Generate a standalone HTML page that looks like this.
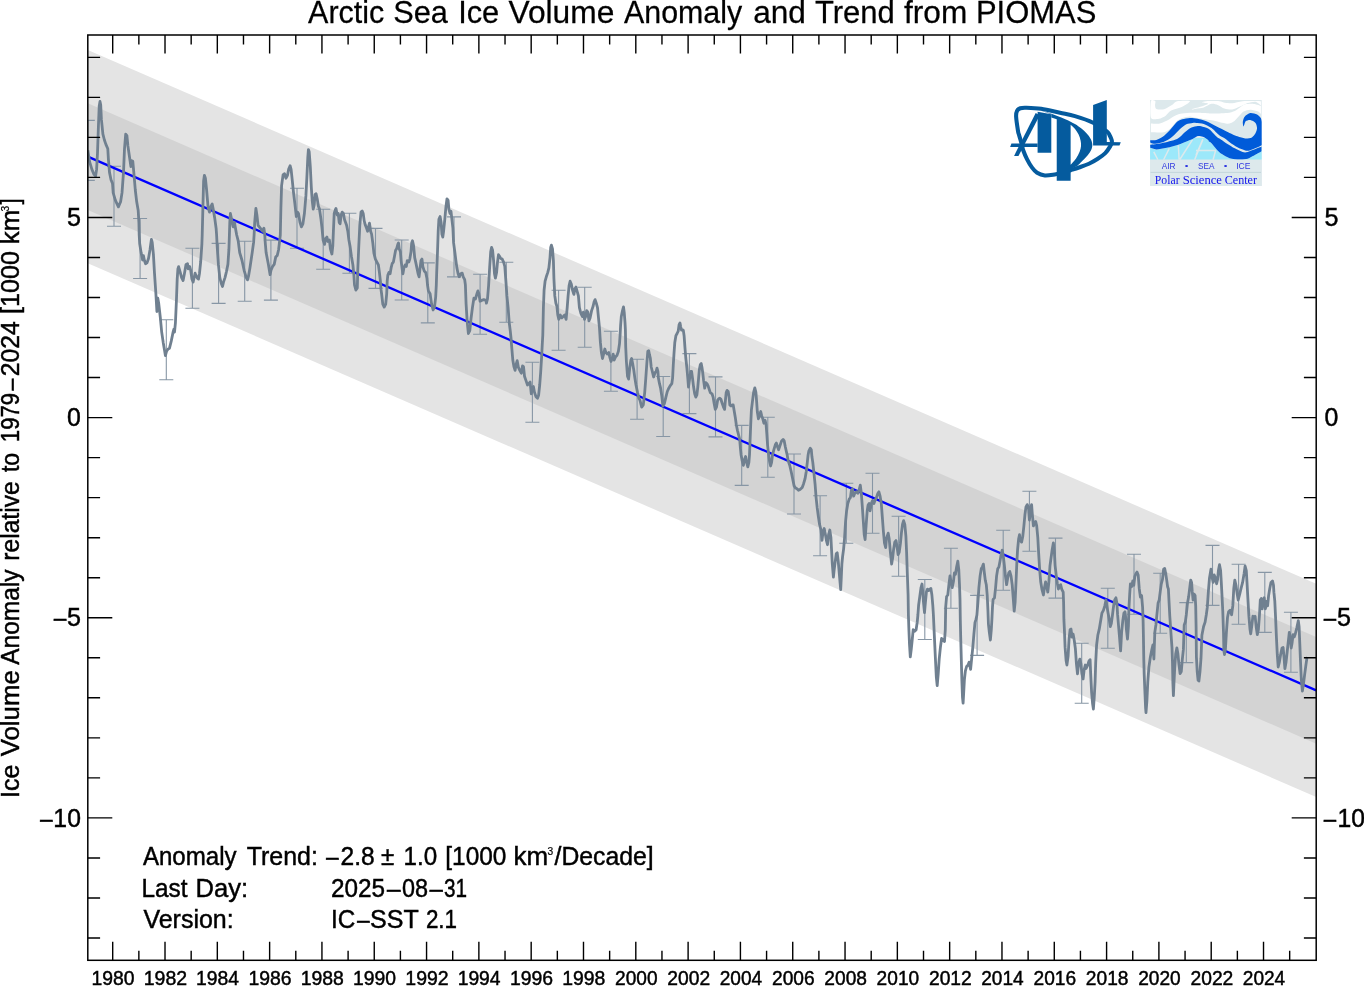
<!DOCTYPE html>
<html lang="en"><head><meta charset="utf-8"><title>Arctic Sea Ice Volume Anomaly and Trend from PIOMAS</title>
<style>html,body{margin:0;padding:0;background:#fff}body{width:1364px;height:986px;overflow:hidden}svg{display:block}text{font-family:"Liberation Sans",sans-serif;fill:#000;stroke:#000;stroke-width:0.45}</style></head><body>
<svg width="1364" height="986" viewBox="0 0 1364 986">
<rect width="1364" height="986" fill="#fff"/>
<defs><clipPath id="pc"><rect x="87.8" y="35.0" width="1228.4" height="925.3"/></clipPath></defs>
<g clip-path="url(#pc)">
<polygon fill="#e4e4e4" points="87.8,50 1316.2,583.8 1316.2,797 87.8,263.2"/>
<polygon fill="#d3d3d3" points="87.8,103.3 1316.2,637.1 1316.2,743.7 87.8,209.9"/>
<path d="M87.8 120.4V180.4M80.8 120.4h14M80.8 180.4h14M114 166.3V226.3M107 166.3h14M107 226.3h14M140.1 218.5V278.5M133.1 218.5h14M133.1 278.5h14M166.3 319.7V379.7M159.3 319.7h14M159.3 379.7h14M192.4 248.2V308.2M185.4 248.2h14M185.4 308.2h14M218.6 243.4V303.4M211.6 243.4h14M211.6 303.4h14M244.7 241.3V301.3M237.7 241.3h14M237.7 301.3h14M270.9 240.1V300.1M263.9 240.1h14M263.9 300.1h14M297 188.3V248.3M290 188.3h14M290 248.3h14M323.2 209.3V269.3M316.2 209.3h14M316.2 269.3h14M349.4 213.2V273.2M342.4 213.2h14M342.4 273.2h14M375.5 228.4V288.4M368.5 228.4h14M368.5 288.4h14M401.7 240V300M394.7 240h14M394.7 300h14M427.8 262.9V322.9M420.8 262.9h14M420.8 322.9h14M454 216.9V276.9M447 216.9h14M447 276.9h14M480.1 274.2V334.2M473.1 274.2h14M473.1 334.2h14M506.3 262.2V322.2M499.3 262.2h14M499.3 322.2h14M532.4 362.2V422.2M525.4 362.2h14M525.4 422.2h14M558.6 290.3V350.3M551.6 290.3h14M551.6 350.3h14M584.7 287.3V347.3M577.7 287.3h14M577.7 347.3h14M610.9 331.2V391.2M603.9 331.2h14M603.9 391.2h14M637.1 359.3V419.3M630.1 359.3h14M630.1 419.3h14M663.2 376.5V436.5M656.2 376.5h14M656.2 436.5h14M689.4 353.6V413.6M682.4 353.6h14M682.4 413.6h14M715.5 376.9V436.9M708.5 376.9h14M708.5 436.9h14M741.7 425.4V485.4M734.7 425.4h14M734.7 485.4h14M767.8 417.2V477.2M760.8 417.2h14M760.8 477.2h14M794 454V514M787 454h14M787 514h14M820.1 495.7V555.7M813.1 495.7h14M813.1 555.7h14M846.3 483.3V543.3M839.3 483.3h14M839.3 543.3h14M872.5 473.2V533.2M865.5 473.2h14M865.5 533.2h14M898.6 516.3V576.3M891.6 516.3h14M891.6 576.3h14M924.8 579.5V639.5M917.8 579.5h14M917.8 639.5h14M950.9 548.3V608.3M943.9 548.3h14M943.9 608.3h14M977.1 595.4V655.4M970.1 595.4h14M970.1 655.4h14M1003.2 530.3V590.3M996.2 530.3h14M996.2 590.3h14M1029.4 491.2V551.2M1022.4 491.2h14M1022.4 551.2h14M1055.5 538.1V598.1M1048.5 538.1h14M1048.5 598.1h14M1081.7 643.3V703.3M1074.7 643.3h14M1074.7 703.3h14M1107.8 588.2V648.2M1100.8 588.2h14M1100.8 648.2h14M1134 554.3V614.3M1127 554.3h14M1127 614.3h14M1160.2 573.2V633.2M1153.2 573.2h14M1153.2 633.2h14M1186.3 602.6V662.6M1179.3 602.6h14M1179.3 662.6h14M1212.5 545.4V605.4M1205.5 545.4h14M1205.5 605.4h14M1238.6 564.3V624.3M1231.6 564.3h14M1231.6 624.3h14M1264.8 572.4V632.4M1257.8 572.4h14M1257.8 632.4h14M1290.9 612.3V672.3M1283.9 612.3h14M1283.9 672.3h14" fill="none" stroke="#8796a5" stroke-width="1.1"/>
<line x1="87.8" y1="156.6" x2="1316.2" y2="690.4" stroke="#0000ff" stroke-width="2.35"/>
<path d="M87.8 150.3 L89.7 162.1 L91.9 169.4 L94.1 174.6 L95.6 176 L96.6 169.4 L97.5 153.2 L98.4 126.8 L99.2 106.2 L100 101.5 L100.7 104.7 L101.4 119.4 L102.9 134.1 L104.4 140 L105.9 144.4 L107.8 148.8 L108.4 159.1 L109.5 172.4 L111 179.7 L112.5 183.4 L113.2 192.9 L115.4 200.3 L118.4 206.9 L120.6 201.8 L122 192.9 L123.5 172.4 L124.5 148.8 L125.7 134.1 L126.9 135.6 L127.9 145.9 L129.4 156.2 L130.9 166.5 L131.6 160.6 L132.8 161.3 L133.8 172.4 L135.3 190 L136.7 201.8 L138.2 210.6 L138.9 222.4 L139.2 235 L139.7 243.8 L141.1 252.6 L142.6 260 L143.4 255.6 L144.5 260.7 L145.6 263.7 L147 262.9 L148.5 258.5 L150 249.7 L151.4 239.4 L152.2 242.4 L153.4 254.1 L154.4 271.8 L155.9 293.8 L156.9 311.5 L157.8 298.2 L158.8 304.1 L160.3 317.4 L161.7 332.1 L163.2 342.4 L164.7 351.2 L165.4 355.6 L166.6 351.2 L168.1 349 L169.5 348.2 L171.3 340.9 L173.1 332.1 L173.9 329.1 L174.5 332.1 L175.4 323.2 L176.4 301.2 L177.2 279.1 L177.9 268.8 L178.6 266.6 L180.1 271.8 L181.6 277.6 L183.1 280.6 L184.5 273.2 L186 264.4 L187.5 263.7 L188.2 268.8 L189.7 266.6 L190.7 270.3 L191.9 279.1 L193.1 282.1 L194.1 277.6 L195.1 273.2 L196.3 276.2 L197.5 278.4 L198.5 279.1 L199.5 273.2 L200.7 261.5 L201.9 243.8 L202.2 235 L202.9 207.6 L203.6 181.2 L204.4 175.3 L205.4 178.2 L206.6 190 L208.1 207.6 L209.5 212.1 L211 206.2 L212.2 204 L213.2 209.1 L214.7 217.9 L216.1 228.2 L216.6 235 L217.2 246.8 L218.4 264.4 L219.8 277.6 L221.3 283.5 L222.5 286.5 L223.5 282.1 L225 277.6 L226.4 271.8 L227.9 264.4 L228.9 249.7 L229.4 235 L229.8 222.4 L230.4 213.5 L231.6 219.4 L233.1 226.8 L234.5 222.4 L236 231.2 L236.7 235 L238.2 240.9 L239.7 252.6 L241.9 260 L244.1 270.3 L246.3 277.6 L247.5 279.9 L248.5 276.2 L250 267.4 L252.2 252.6 L253.6 242.4 L254.1 235 L254.7 222.4 L255.9 208.4 L256.9 215 L258.1 225.3 L260.3 228.2 L262.5 231.2 L263.9 228.2 L264.8 235 L265.1 240.9 L266.1 252.6 L268.4 264.4 L270.1 274.7 L271 270.3 L272.5 266.6 L274.2 264.4 L275.7 257.1 L277.2 255.6 L278.6 249.7 L279.8 239.4 L280.3 235 L280.9 207.6 L281.6 185.6 L283.1 174.6 L284.5 173.8 L286 178.2 L287.5 175.3 L288.6 169.4 L290.1 165.7 L291.1 169.4 L292.2 179.7 L293.4 191.5 L294.8 203.2 L296.3 216.5 L297.5 212.1 L298.5 213.5 L300 222.4 L301.4 226.8 L302.9 223.8 L304.4 213.5 L305.9 195.9 L306.9 176.8 L307.8 157.6 L308.4 149.6 L309.2 151.8 L310.3 166.5 L311.3 187.1 L312.2 200.3 L313.2 209.1 L314.2 204.7 L315.1 194.4 L316.1 193.7 L317.2 198.8 L318.4 206.2 L319.5 209.1 L321 219.4 L322 228.2 L323.1 240 L324.5 244.4 L325.7 238.5 L326.9 237.1 L327.9 241.5 L329.4 240 L330.4 248.8 L331.9 254 L332.8 245.9 L333.4 231.2 L334.2 213.5 L335.3 209.9 L336 208.4 L337.2 215 L338.2 213.5 L339.2 222.4 L340.1 223.8 L341.1 215 L342.2 212.1 L343.4 213.5 L344.5 219.4 L345.6 222.4 L346.6 225.3 L347.8 231.2 L348.9 240 L350 245.9 L351.4 256.2 L352.9 265 L353.9 275.3 L354.5 285 L355.9 290.1 L357.3 287.9 L357.8 269.4 L358.8 245.9 L359.8 225.3 L361 212.1 L362.2 210.9 L363.2 213.5 L364.2 220.9 L365.4 225.3 L366.6 228.2 L367.6 231.2 L368.6 226.8 L369.5 223.1 L370.6 231.2 L371.6 234.1 L372.8 242.9 L373.9 253.2 L375.4 259.1 L376.9 262.1 L378.4 265 L379.4 272.4 L380.4 281.2 L381 289.4 L381.6 293.8 L382.8 304.1 L384.2 307.1 L385.7 304.1 L386.7 293.8 L387.2 281.2 L387.8 275.3 L388.9 272.4 L390.1 273.8 L391.1 267.9 L392.2 263.5 L393.4 262.1 L394.5 256.2 L395.6 250.3 L396.6 248.8 L397.8 244.4 L398.5 242.9 L399.2 248.8 L400.4 251.8 L401.1 260.6 L402.2 269.4 L402.9 273.8 L403.9 267.9 L405.1 265 L406.3 266.5 L407.3 260.6 L408.8 262.1 L409.8 259.1 L411 251.8 L411.7 242.9 L412.5 240.7 L413.6 245.9 L414.7 257.6 L415.7 262.1 L416.9 267.9 L418.1 273.8 L419.1 276.8 L420.1 267.9 L421 260.6 L422 259.1 L422.8 266.5 L424.2 270.9 L425.7 272.4 L426.9 278.2 L427.5 285 L428.4 290.9 L430.1 293.8 L431.6 304.1 L433.1 310 L434.5 307.1 L435.7 296.8 L436.3 285 L436.7 272.4 L437.5 251.8 L438.2 231.2 L438.9 219.4 L440.1 216.5 L441.1 222.4 L441.9 234.1 L442.8 237.1 L443.6 231.2 L444.8 219.4 L446 206.2 L447 198.8 L448.1 200.3 L448.9 209.1 L450 213.5 L451 211.3 L451.9 219.4 L452.9 228.2 L453.6 242.9 L454.8 251.8 L455.9 260.6 L456.9 267.9 L458.1 273.8 L459.2 276.8 L460.7 273.8 L462.2 273.1 L463.2 276.8 L464.7 279.7 L465.4 285 L466.1 304.1 L467.2 321.8 L468.4 333.5 L469.8 330.6 L471 318.8 L472.5 307.1 L473.9 298.2 L475.4 299 L476.9 293.8 L477.9 290.9 L478.9 293.8 L480.1 301.2 L481.6 300.4 L483.8 299.7 L486 300.4 L486.4 303.2 L487.5 298.8 L488.6 285.6 L489.7 266.5 L490.7 251.8 L491.6 247.4 L492.6 250.3 L493.6 260.6 L494.5 273.8 L495.4 278.2 L496.6 272.4 L497.5 262.1 L498.5 254.7 L499.5 256.2 L500.7 258.4 L502.2 259.1 L503.6 262.1 L504.8 266.5 L505.9 281.2 L506.9 295.9 L508.1 307.6 L509.2 322.4 L510.3 331.2 L511 337.9 L511.7 346.8 L512.8 360 L513.9 366.6 L515.1 370.3 L516.1 364.4 L517.2 360.7 L518.4 367.4 L519.8 370.3 L521.3 373.2 L522.5 365.9 L523.5 366.6 L524.5 376.2 L526 380.6 L527.5 385 L528.9 383.5 L530.1 382.1 L531.3 393.8 L532.3 387.9 L533.4 386.5 L534.5 392.4 L536 396.8 L537.5 398.2 L538.6 395.3 L539.7 385 L540.7 371.8 L541.6 357.1 L542.3 343.8 L542.8 335 L543.4 307.6 L544.1 290 L545.1 281.2 L546.3 276.8 L547.8 272.4 L548.9 267.9 L550 257.6 L550.7 247.4 L551.4 245.1 L552.5 248.8 L553.4 260.6 L553.9 278.2 L554.8 295.9 L555.9 303.2 L556.9 306.2 L557.8 315 L558.8 319.4 L560.3 315 L561.7 317.9 L563.2 316.5 L564.7 315 L566.1 319.4 L567.2 307.6 L568.1 295.9 L569.1 285.6 L570.1 281.2 L571.3 284.1 L572.5 290 L573.9 294.4 L575 288.5 L576 287.1 L577.2 291.5 L578.4 295.9 L579.4 307.6 L580.9 313.5 L582.3 316.5 L583.4 312.1 L584.5 319.4 L585.7 316.5 L586.7 310.6 L587.8 312.1 L588.9 320.9 L590.1 317.9 L591.6 310.6 L593.1 306.2 L594.1 301.8 L595.1 299.6 L596.3 303.2 L597.5 307.6 L598.5 317.9 L599.5 328.2 L600.1 337.9 L600.4 342.4 L601.4 352.6 L602.5 358.5 L603.6 354.1 L604.8 349 L605.9 352.6 L607.3 354.1 L608.8 352.6 L609.8 357.1 L611 361.5 L612.2 358.5 L613.2 354.1 L614.2 360 L615.4 357.1 L616.9 355.6 L618.4 351.2 L619.5 343.8 L620.1 335 L620.6 325.3 L621.3 316.5 L622.5 310.6 L623.5 306.9 L624.2 312.1 L625 322.4 L625.4 329.7 L625.7 346.8 L626.4 361.5 L627.5 376.2 L628.6 379.1 L629.8 367.4 L630.9 360 L631.6 358.5 L632.8 364.4 L633.8 370.3 L634.8 377.6 L636 385 L637.5 392.4 L638.9 398.2 L640 400.4 L641.7 407.1 L643.3 404.9 L644.7 392.6 L645.8 378.1 L646.9 362.5 L647.8 351.3 L648.7 350.8 L649.5 354.7 L650.3 358 L651.2 367 L652.3 371.4 L653.6 377 L655.1 372.5 L656.2 371.4 L657 368.1 L657.9 371.4 L658.4 378.1 L659.5 383.7 L660.6 388.2 L661.8 396 L662.9 406 L664.3 403.8 L665.9 397.1 L667.3 391.5 L668.8 388.2 L670.1 385.9 L671.8 383.7 L672.6 378.1 L673.3 364.7 L674 353.6 L674.8 342.4 L675.9 335.7 L677.1 333.5 L678.2 331.2 L679.1 324.6 L680 322.9 L680.7 326.8 L681.5 330.1 L682.4 329.6 L683.3 330.1 L684.1 335.7 L684.9 346.9 L685.8 358 L686.9 368.1 L687.8 378.1 L688.5 387.1 L689.7 378.1 L690.8 371.4 L691.6 371.4 L692.5 378.1 L693.6 387.1 L694.7 393.8 L695.8 397.1 L696.9 394.9 L697.8 387.1 L698.6 378.1 L699.4 369.2 L700.3 364.7 L701.2 363.6 L701.9 367 L702.7 372.5 L703.6 380.4 L704.7 388.2 L705.8 382.6 L707 383.7 L708.1 385.9 L709.2 389.3 L710.3 392.6 L712 393.8 L713.1 397.1 L714.2 403.8 L715.3 409.4 L716.5 407.1 L717.6 400.4 L718.7 398.8 L719.8 398.2 L720.9 399.3 L722 402.7 L723.5 407.1 L724.6 409.4 L725.4 400.4 L726.2 392.6 L727.1 390.4 L728.2 391.5 L729.1 397.1 L729.8 404.9 L731 406 L732.1 404.9 L733.2 404.9 L735.3 417.4 L736.3 424.7 L737.5 430.6 L738.6 435 L739.7 439.4 L740.4 448.2 L741.1 455 L742.2 460.9 L743.4 465.3 L744.5 459.4 L745.6 456.5 L746.6 462.4 L747.8 466.8 L748.9 462.4 L749.5 455 L750 442.4 L750.7 424.7 L751.4 410 L752.5 401.2 L753.6 392.4 L754.8 387.9 L755.9 392.4 L756.6 401.2 L757.3 411.5 L758.4 418.8 L759.5 415.9 L760.7 411.5 L761.7 415.9 L762.8 418.8 L763.9 423.2 L765.1 420.3 L766.1 424.7 L766.9 435 L767.6 445.3 L768.4 452.6 L769.1 457.9 L769.5 460.9 L770.6 466 L771.6 462.4 L772.5 455 L773.1 452.6 L773.9 449.7 L775.4 444.6 L776.4 443.1 L777.5 446.8 L778.6 449.7 L780.1 445.3 L781.6 440.9 L783.1 439.4 L784.2 440.9 L785.3 446.8 L786.3 451.2 L787.2 455 L788.2 460.9 L789.7 465.3 L791.1 471.2 L792.6 478.5 L794.1 485.9 L795.6 488.1 L797 488.8 L798.5 490.3 L800 489.6 L802.2 487.4 L803.6 483.7 L805.1 478.5 L806.3 471.2 L807.3 462.4 L808.1 455 L808.8 451.2 L810.3 448.2 L811.3 449.7 L811.9 456.5 L812.8 462.4 L813.9 472.6 L815.1 484.4 L816.1 497.6 L817.2 507.9 L818.4 516.8 L819.5 524.1 L821 530 L822 540.3 L823.1 531.5 L824.2 528.5 L825.4 534.4 L826.4 540.3 L827.5 544.7 L828.6 534.4 L829.8 530 L830.9 537.4 L831.6 550.6 L832.3 563.8 L833.4 577.1 L834.2 569.7 L835.3 560.9 L836.3 553.5 L837.2 552.8 L838.2 560.9 L839.2 572.6 L840.1 582.9 L840.7 589.6 L841.3 577.1 L841.9 563.8 L842.6 556.5 L843.6 549.1 L844.5 538.8 L845.6 521.2 L846.6 510.9 L847.8 503.5 L849.2 499.1 L850.4 497.6 L851.4 490.3 L852.5 488.8 L853.6 496.2 L854.8 493.2 L856.3 491.8 L857.8 493.2 L859.2 489.6 L860.3 485.1 L861.3 493.2 L862.2 505 L863.2 519.7 L864.2 534.4 L865.1 539.6 L866.1 525.6 L867.2 510.9 L868.1 505 L869.1 503.5 L870.1 510.9 L871.3 503.5 L872.5 500.6 L873.9 503.5 L875 500.6 L876.4 497.6 L877.9 493.2 L878.9 491.8 L880.1 496.2 L881.3 503.5 L882.3 516.8 L883.4 531.5 L884.5 543.2 L885.7 547.6 L886.4 539.1 L887.2 536.2 L888.2 533.2 L889.2 539.1 L890.4 552.4 L891.6 564.1 L892.6 558.2 L893.6 549.4 L894.8 542.1 L896 540.6 L897 546.5 L898.1 554.6 L899.2 552.4 L900.4 543.5 L901.4 533.2 L902.5 524.4 L903.6 520.7 L904.8 524.4 L905.9 536.2 L906.6 552.4 L907.3 572.9 L908.1 595 L908.4 615 L908.9 629.7 L909.5 644.4 L910.3 656.9 L911.3 648.8 L912.2 640 L913.2 629.7 L914.7 631.2 L916.1 629.7 L917.2 622.4 L917.9 615 L918.6 605.3 L919.8 596.5 L921 587.6 L922 584 L922.8 592.1 L923.5 602.4 L924.5 612.6 L925.4 602.4 L926.4 592.1 L927.5 589.1 L928.6 590.6 L929.8 589.1 L930.9 588.4 L931.9 595 L932.8 605.3 L933.4 615 L934.2 632.6 L935.3 656.2 L936.3 676.8 L937.2 685.6 L938.2 673.8 L939.2 659.1 L940.4 647.4 L941.6 638.5 L943.1 640 L944.5 641.5 L945.3 629.7 L945.7 606.8 L946.6 596.5 L947.8 595 L948.9 584.7 L950 575.9 L951 581.8 L952.2 587.6 L953.4 581.8 L954.4 572.9 L955.4 574.4 L956.6 567.1 L957.8 561.2 L958.8 570 L959.5 584.7 L960 599.4 L960.3 619.4 L960.7 637.1 L961.3 659.1 L961.9 681.2 L962.5 697.4 L963.1 703.2 L963.6 694.4 L964.4 679.7 L965.4 670.9 L966.6 666.5 L968.1 665 L969.1 662.1 L970.6 669.4 L971.6 659.1 L972.8 647.4 L973.9 634.1 L975 622.4 L976 619.4 L976.9 615 L977.9 602.4 L978.9 587.6 L980.1 575.9 L981.3 568.5 L982.3 567.1 L983.4 564.1 L984.2 571.5 L985.3 580.3 L986.3 584.7 L987.2 595 L987.9 609.7 L988.4 623.8 L989.2 631.2 L990.4 640 L991.3 629.7 L991.9 619.4 L992.5 606.8 L993.1 599.4 L994.5 597.9 L995.6 587.6 L996.6 575.9 L997.8 568.5 L998.9 567.1 L1000 561.2 L1001 555.3 L1002.2 550.1 L1003.4 556.8 L1004.4 565.6 L1005.4 575.9 L1006.6 584.7 L1007.8 577.4 L1008.8 572.9 L1009.8 571.5 L1011 575.9 L1012.2 584.7 L1013.2 597.9 L1014.2 611.2 L1015.1 602.4 L1016.1 580.3 L1016.9 561.2 L1017.6 549.4 L1018.6 539.1 L1019.5 534.7 L1020.6 540.6 L1021.6 542.1 L1022.8 536.2 L1023.9 525.9 L1025 514.1 L1026 506.8 L1027.2 504.6 L1028.4 506.8 L1029.4 520 L1030.4 511.2 L1031.6 504.6 L1032.3 514.1 L1033.4 525.9 L1034.5 522.9 L1035.7 521.5 L1036.7 525.9 L1037.8 537.6 L1038.6 552.4 L1039.7 570 L1040.7 581.8 L1041.9 589.1 L1043.4 595 L1044.5 587.6 L1045.6 581.8 L1046.6 586.2 L1047.8 592.1 L1048.9 581.8 L1050 565.6 L1051 558.2 L1052.2 549.4 L1053.4 542.8 L1054.4 552.4 L1055.1 565.6 L1056.3 575.9 L1057.3 583.2 L1058.4 589.1 L1059.5 586.2 L1060.7 584.7 L1061.7 589.1 L1063.2 592.1 L1063.6 602.4 L1063.9 619.4 L1064.4 629.7 L1065.1 647.4 L1066.1 660.6 L1066.9 665 L1068.1 656.2 L1069.1 638.5 L1070.1 629.7 L1071 629 L1072 637.1 L1073.1 634.1 L1074.2 640 L1075.4 648.8 L1076.4 663.5 L1077.5 673.8 L1078.6 663.5 L1079.8 659.1 L1080.9 663.5 L1081.9 673.8 L1083.1 679 L1084.2 669.4 L1085.3 665 L1086 668.5 L1087.5 665.6 L1088.9 661.2 L1090.1 659.7 L1090.7 674.4 L1091.6 692.1 L1092.6 703.8 L1093.4 709 L1094.2 697.9 L1095.1 681.8 L1095.7 662.6 L1096.6 645 L1097.8 635.3 L1099.2 629.4 L1100.7 620.6 L1101.9 613.2 L1103.4 610.3 L1104.8 605.9 L1106 600 L1106.9 605.9 L1108.1 613.2 L1109.2 619.1 L1110.3 626.5 L1111.3 623.5 L1112.5 614.7 L1113.6 605.9 L1114.7 600 L1115.9 597.8 L1116.9 602.9 L1117.6 614.7 L1118.6 626.5 L1119.5 636.8 L1120.6 650.9 L1121.6 632.4 L1122.8 620.6 L1123.9 613.2 L1125 611.8 L1125.7 617.6 L1126.4 629.4 L1127.5 639 L1128.4 626.5 L1128.9 608.8 L1129.7 594.1 L1130.4 583.8 L1131.6 586.8 L1132.8 580.9 L1133.8 585.3 L1134.8 576.5 L1136 573.5 L1137 572.1 L1138.2 575 L1139.2 588.2 L1140.4 597.1 L1141.6 595.6 L1142.6 607.4 L1143.1 620.6 L1143.4 635.3 L1143.8 659.7 L1144.2 674.4 L1144.8 689.1 L1145.6 708.2 L1146 712.6 L1146.9 700.9 L1147.8 681.8 L1148.9 667.1 L1150.4 656.8 L1151.9 649.4 L1152.9 645 L1153.9 659 L1154.8 632.4 L1155.9 625 L1156.9 614.7 L1158.1 602.9 L1159.2 600 L1160.3 591.2 L1161.3 583.8 L1162.5 579.4 L1163.6 569.1 L1164.7 568.4 L1165.7 573.5 L1166.6 579.4 L1167.6 586.8 L1168.4 589 L1169.1 602.9 L1169.8 616.2 L1170.6 627.9 L1171.4 639.7 L1172 647.9 L1172.5 662.6 L1172.9 683.2 L1173.4 695.7 L1173.9 684.7 L1174.7 668.5 L1175.7 653.8 L1176.9 647.9 L1177.9 653.8 L1178.9 664.1 L1180.1 673.7 L1181.3 671.5 L1182.3 659.7 L1183.4 649.4 L1184.2 625 L1185.3 622.1 L1186.3 614.7 L1187.5 602.9 L1188.6 597.1 L1189.7 588.2 L1190.7 580.1 L1191.6 582.4 L1192.2 591.2 L1193.1 600 L1194.1 594.1 L1195.1 595.6 L1195.7 605.9 L1196.1 626.5 L1196.4 656.8 L1197.2 671.5 L1198.1 680.3 L1198.9 681 L1200 671.5 L1201 658.2 L1201.9 635.3 L1203.6 626.5 L1205.1 622.1 L1206.3 614.7 L1207.3 607.4 L1208.4 591.2 L1209.5 577.9 L1211 569.1 L1212.2 577.9 L1213.2 582.4 L1214.2 575 L1215.4 577.9 L1216.6 583.8 L1217.6 579.4 L1218.4 570.6 L1219.5 564.7 L1220.6 570.6 L1221.3 582.4 L1222 595.6 L1222.8 611.8 L1223.5 632.4 L1223.9 650.9 L1224.5 654.6 L1225.4 649.4 L1226.4 632.4 L1227.5 617.6 L1228.6 611.8 L1230.1 610.3 L1231.6 614.7 L1232.8 605.9 L1233.8 588.2 L1234.8 580.1 L1236 585.3 L1237.2 594.1 L1238.2 600 L1239.7 594.1 L1241.1 588.2 L1242.6 582.4 L1244.1 573.5 L1245.1 566.2 L1246.3 570.6 L1247 582.4 L1247.8 597.1 L1248.9 616.2 L1250 629.4 L1250.7 633.8 L1251.9 625 L1252.9 616.2 L1253.9 617.6 L1255.1 616.2 L1256.3 627.9 L1257.3 634.6 L1258.4 629.4 L1259.5 614.7 L1260.3 600 L1261.3 598.5 L1262.2 608.8 L1263.2 600 L1264.2 597.8 L1265.4 608.8 L1266.6 601.5 L1267.6 605.9 L1268.6 595.6 L1269.8 588.2 L1271 582.4 L1272.5 580.9 L1273.5 585.3 L1273.9 592.2 L1274.8 601.2 L1275.6 617.9 L1276.4 636.9 L1277.3 654.7 L1278.2 667 L1279.3 662.5 L1280.6 654.7 L1282 648 L1283.1 647.5 L1284 657 L1284.9 668.7 L1286 662.5 L1287.1 652.5 L1288.2 642.5 L1289.3 632.4 L1290.5 638 L1291.2 648 L1292 643.6 L1293.1 634.6 L1294.3 636.9 L1295.4 633.5 L1296.8 627.9 L1298.3 620.7 L1299.1 626.8 L1299.8 643.6 L1300.5 661.4 L1301.3 679.3 L1302.4 691 L1303.5 683.8 L1304.6 674.8 L1305.8 665.9 L1306.9 658.1 L1307.4 657.5" fill="none" stroke="#708090" stroke-width="2.8" stroke-linejoin="round" stroke-linecap="butt"/>
</g>
<path d="M112.7 35.0v18.5M112.7 960.3v-18.5M138.86 35.0v9.5M138.86 960.3v-9.5M165.01 35.0v18.5M165.01 960.3v-18.5M191.17 35.0v9.5M191.17 960.3v-9.5M217.32 35.0v18.5M217.32 960.3v-18.5M243.48 35.0v9.5M243.48 960.3v-9.5M269.63 35.0v18.5M269.63 960.3v-18.5M295.79 35.0v9.5M295.79 960.3v-9.5M321.94 35.0v18.5M321.94 960.3v-18.5M348.1 35.0v9.5M348.1 960.3v-9.5M374.25 35.0v18.5M374.25 960.3v-18.5M400.41 35.0v9.5M400.41 960.3v-9.5M426.56 35.0v18.5M426.56 960.3v-18.5M452.71 35.0v9.5M452.71 960.3v-9.5M478.87 35.0v18.5M478.87 960.3v-18.5M505.03 35.0v9.5M505.03 960.3v-9.5M531.18 35.0v18.5M531.18 960.3v-18.5M557.34 35.0v9.5M557.34 960.3v-9.5M583.49 35.0v18.5M583.49 960.3v-18.5M609.65 35.0v9.5M609.65 960.3v-9.5M635.8 35.0v18.5M635.8 960.3v-18.5M661.96 35.0v9.5M661.96 960.3v-9.5M688.11 35.0v18.5M688.11 960.3v-18.5M714.27 35.0v9.5M714.27 960.3v-9.5M740.42 35.0v18.5M740.42 960.3v-18.5M766.58 35.0v9.5M766.58 960.3v-9.5M792.73 35.0v18.5M792.73 960.3v-18.5M818.89 35.0v9.5M818.89 960.3v-9.5M845.04 35.0v18.5M845.04 960.3v-18.5M871.2 35.0v9.5M871.2 960.3v-9.5M897.35 35.0v18.5M897.35 960.3v-18.5M923.51 35.0v9.5M923.51 960.3v-9.5M949.66 35.0v18.5M949.66 960.3v-18.5M975.82 35.0v9.5M975.82 960.3v-9.5M1001.97 35.0v18.5M1001.97 960.3v-18.5M1028.12 35.0v9.5M1028.12 960.3v-9.5M1054.28 35.0v18.5M1054.28 960.3v-18.5M1080.43 35.0v9.5M1080.43 960.3v-9.5M1106.59 35.0v18.5M1106.59 960.3v-18.5M1132.75 35.0v9.5M1132.75 960.3v-9.5M1158.9 35.0v18.5M1158.9 960.3v-18.5M1185.06 35.0v9.5M1185.06 960.3v-9.5M1211.21 35.0v18.5M1211.21 960.3v-18.5M1237.37 35.0v9.5M1237.37 960.3v-9.5M1263.52 35.0v18.5M1263.52 960.3v-18.5M1289.68 35.0v9.5M1289.68 960.3v-9.5M87.8 937.99h12.3M1316.2 937.99h-12.3M87.8 897.96h12.3M1316.2 897.96h-12.3M87.8 857.93h12.3M1316.2 857.93h-12.3M87.8 817.9h24.5M1316.2 817.9h-24.5M87.8 777.87h12.3M1316.2 777.87h-12.3M87.8 737.84h12.3M1316.2 737.84h-12.3M87.8 697.81h12.3M1316.2 697.81h-12.3M87.8 657.78h12.3M1316.2 657.78h-12.3M87.8 617.75h24.5M1316.2 617.75h-24.5M87.8 577.72h12.3M1316.2 577.72h-12.3M87.8 537.69h12.3M1316.2 537.69h-12.3M87.8 497.66h12.3M1316.2 497.66h-12.3M87.8 457.63h12.3M1316.2 457.63h-12.3M87.8 417.6h24.5M1316.2 417.6h-24.5M87.8 377.57h12.3M1316.2 377.57h-12.3M87.8 337.54h12.3M1316.2 337.54h-12.3M87.8 297.51h12.3M1316.2 297.51h-12.3M87.8 257.48h12.3M1316.2 257.48h-12.3M87.8 217.45h24.5M1316.2 217.45h-24.5M87.8 177.42h12.3M1316.2 177.42h-12.3M87.8 137.39h12.3M1316.2 137.39h-12.3M87.8 97.36h12.3M1316.2 97.36h-12.3M87.8 57.33h12.3M1316.2 57.33h-12.3" fill="none" stroke="#000" stroke-width="1.4"/>
<rect x="87.8" y="35.0" width="1228.4" height="925.3" fill="none" stroke="#000" stroke-width="1.5"/>
<g id="title" style="stroke-width:0.25">
<text style="stroke-width:0.25" transform="translate(308.03,23) scale(0.9784,1.03)" font-size="31.2">Arctic</text>
<text style="stroke-width:0.25" transform="translate(393.24,23) scale(0.9856,1.03)" font-size="31.2">Sea</text>
<text style="stroke-width:0.25" transform="translate(458.15,23) scale(0.9869,1.03)" font-size="31.2">Ice</text>
<text style="stroke-width:0.25" transform="translate(508.47,23) scale(1.0172,1.03)" font-size="31.2">Volume</text>
<text style="stroke-width:0.25" transform="translate(624.02,23) scale(0.9735,1.03)" font-size="31.2">Anomaly</text>
<text style="stroke-width:0.25" transform="translate(753.16,23) scale(1.0139,1.03)" font-size="31.2">and</text>
<text style="stroke-width:0.25" transform="translate(814.9,23) scale(0.9944,1.03)" font-size="31.2">Trend</text>
<text style="stroke-width:0.25" transform="translate(904.05,23) scale(1.0141,1.03)" font-size="31.2">from</text>
<text style="stroke-width:0.25" transform="translate(975.95,23) scale(0.9922,1.03)" font-size="31.2">PIOMAS</text>
</g>
<g id="xlabels">
<text transform="translate(91.47,984.97) scale(0.9729,1.0227)" font-size="19.9">1980</text>
<text transform="translate(143.77,984.97) scale(0.9799,1.0227)" font-size="19.9">1982</text>
<text transform="translate(196.1,984.97) scale(0.9707,1.0227)" font-size="19.9">1984</text>
<text transform="translate(248.4,984.97) scale(0.9753,1.0227)" font-size="19.9">1986</text>
<text transform="translate(300.71,984.97) scale(0.9753,1.0227)" font-size="19.9">1988</text>
<text transform="translate(353.02,984.97) scale(0.9729,1.0227)" font-size="19.9">1990</text>
<text transform="translate(405.32,984.97) scale(0.9799,1.0227)" font-size="19.9">1992</text>
<text transform="translate(457.65,984.97) scale(0.9707,1.0227)" font-size="19.9">1994</text>
<text transform="translate(509.95,984.97) scale(0.9753,1.0227)" font-size="19.9">1996</text>
<text transform="translate(562.26,984.97) scale(0.9753,1.0227)" font-size="19.9">1998</text>
<text transform="translate(615.07,984.97) scale(0.9616,1.0227)" font-size="19.9">2000</text>
<text transform="translate(667.37,984.97) scale(0.9684,1.0227)" font-size="19.9">2002</text>
<text transform="translate(719.69,984.97) scale(0.9593,1.0227)" font-size="19.9">2004</text>
<text transform="translate(772,984.97) scale(0.9638,1.0227)" font-size="19.9">2006</text>
<text transform="translate(824.31,984.97) scale(0.9638,1.0227)" font-size="19.9">2008</text>
<text transform="translate(876.62,984.97) scale(0.9616,1.0227)" font-size="19.9">2010</text>
<text transform="translate(928.92,984.97) scale(0.9684,1.0227)" font-size="19.9">2012</text>
<text transform="translate(981.24,984.97) scale(0.9593,1.0227)" font-size="19.9">2014</text>
<text transform="translate(1033.55,984.97) scale(0.9638,1.0227)" font-size="19.9">2016</text>
<text transform="translate(1085.86,984.97) scale(0.9638,1.0227)" font-size="19.9">2018</text>
<text transform="translate(1138.17,984.97) scale(0.9616,1.0227)" font-size="19.9">2020</text>
<text transform="translate(1190.47,984.97) scale(0.9684,1.0227)" font-size="19.9">2022</text>
<text transform="translate(1242.79,984.97) scale(0.9593,1.0227)" font-size="19.9">2024</text>
</g>
<g id="ylabels">
<text transform="translate(67.02,226.06) scale(1.0063,1.0429)" font-size="25">5</text>
<text transform="translate(1324.52,226.06) scale(1.0063,1.0429)" font-size="25">5</text>
<text transform="translate(67.03,426.22) scale(0.9958,1.0282)" font-size="25">0</text>
<text transform="translate(1324.53,426.22) scale(0.9958,1.0282)" font-size="25">0</text>
<text transform="translate(67.02,626.36) scale(1.0063,1.0429)" font-size="25">5</text>
<text transform="translate(1337.12,626.36) scale(1.0063,1.0429)" font-size="25">5</text>
<text transform="translate(52.74,628.42) scale(1.0268,1)" font-size="25">−</text>
<text transform="translate(1322.86,628.42) scale(1.0103,1)" font-size="25">−</text>
<text transform="translate(53.37,826.52) scale(0.99,1.0282)" font-size="25">10</text>
<text transform="translate(1337.47,826.52) scale(0.99,1.0282)" font-size="25">10</text>
<text transform="translate(39.04,828.58) scale(1.0268,1)" font-size="25">−</text>
<text transform="translate(1322.86,828.58) scale(1.0103,1)" font-size="25">−</text>
</g>
<g id="ytitle">
<text transform="translate(18.8,798.03) rotate(-90) scale(1.0057,1)" font-size="24.9">Ice</text>
<text transform="translate(18.8,756.3) rotate(-90) scale(1.0361,1)" font-size="24.9">Volume</text>
<text transform="translate(18.8,664.77) rotate(-90) scale(0.9834,1)" font-size="24.9">Anomaly</text>
<text transform="translate(18.8,560.67) rotate(-90) scale(0.9882,1)" font-size="24.9">relative</text>
<text transform="translate(18.8,472.12) rotate(-90) scale(0.9294,1)" font-size="24.9">to</text>
<text transform="translate(18.8,442.13) rotate(-90) scale(0.8862,1)" font-size="24.9">1979</text>
<text transform="translate(18.8,376.32) rotate(-90) scale(0.997,1)" font-size="24.9">2024</text>
<text transform="translate(18.8,314.04) rotate(-90) scale(1.0103,1)" font-size="24.9">[1000</text>
<text transform="translate(18.8,244.25) rotate(-90) scale(1.0348,1)" font-size="24.9">km</text>
<text transform="translate(18.8,204.39) rotate(-90) scale(0.8936,1)" font-size="24.9">]</text>
<text transform="translate(20.94,391.58) rotate(-90) scale(0.9647,1)" font-size="24.9">−</text>
<text transform="translate(8.6,211.6) rotate(-90)" font-size="10.2" style="stroke-width:0.2">3</text>
</g>
<g id="annot">
<text transform="translate(142.92,865.2) scale(0.9668,1)" font-size="24.9">Anomaly</text>
<text transform="translate(246.73,865.2) scale(1.0018,1)" font-size="24.9">Trend:</text>
<text transform="translate(340.5,865.2) scale(0.987,1)" font-size="24.9">2.8</text>
<text transform="translate(381,865.2) scale(0.9712,1)" font-size="24.9">±</text>
<text transform="translate(403.51,865.2) scale(0.9711,1)" font-size="24.9">1.0</text>
<text transform="translate(445.32,865.2) scale(0.9801,1)" font-size="24.9">[1000</text>
<text transform="translate(513.53,865.2) scale(1.0448,1)" font-size="24.9">km</text>
<text transform="translate(554.62,865.2) scale(0.9938,1)" font-size="24.9">/Decade]</text>
<text x="547.6" y="854.9" font-size="10.2" style="stroke-width:0.2">3</text>
<text transform="translate(141.58,896.6) scale(0.9761,1)" font-size="24.9">Last</text>
<text transform="translate(195.48,896.6) scale(1.028,1)" font-size="24.9">Day:</text>
<text transform="translate(330.91,896.6) scale(0.9772,1)" font-size="24.9">2025</text>
<text transform="translate(401.99,896.6) scale(0.9416,1)" font-size="24.9">08</text>
<text transform="translate(444,896.6) scale(0.8326,1)" font-size="24.9">31</text>
<text transform="translate(143.4,927.8) scale(1.0037,1)" font-size="24.9">Version:</text>
<text transform="translate(330.94,927.8) scale(0.9753,1)" font-size="24.9">IC</text>
<text transform="translate(370.1,927.8) scale(1.0051,1)" font-size="24.9">SST</text>
<text transform="translate(425.9,927.8) scale(0.9009,1)" font-size="24.9">2.1</text>
<text transform="translate(325.04,867.34) scale(1.0309,1)" font-size="24.9">−</text>
<text transform="translate(385.73,898.74) scale(1.122,1)" font-size="24.9">−</text>
<text transform="translate(428.58,898.74) scale(1.0806,1)" font-size="24.9">−</text>
<text transform="translate(355.94,929.94) scale(1.0309,1)" font-size="24.9">−</text>
</g>
<g id="apl" transform="translate(1000,90) scale(0.10142)" fill="#055b9e">
<path fill="none" stroke="#055b9e" stroke-width="40" d="M159 263C157.37 229.5 161.17 218.83 168 205C174.83 191.17 185.83 185 200 180C214.17 175 218.67 174.17 253 175C287.33 175.83 349.57 176.67 406 185C462.43 193.33 536.1 212.83 591.6 225C647.1 237.17 684.6 241.67 739 258C793.4 274.33 865.67 298 918 323C970.33 348 1026 387.67 1053 408C1080 428.33 1072.5 432.17 1080 445C1087.5 457.83 1094.17 473.83 1098 485C1101.83 496.17 1105 500.17 1103 512C1101 523.83 1096.83 537.67 1086 556C1075.17 574.33 1058.33 601.67 1038 622C1017.67 642.33 990.83 660.5 964 678C937.17 695.5 908 712.67 877 727C846 741.33 808.17 753.33 778 764C747.83 774.67 722.33 782.5 696 791C669.67 799.5 646 808.17 620 815C594 821.83 569.67 827.5 540 832C510.33 836.5 471.07 844.67 442 842C412.93 839.33 386.83 829.25 365.6 816C344.37 802.75 331.2 785 314.6 762.5C298 740 280.47 709.48 266 681C251.53 652.52 235.87 614.15 227.8 591.6C219.73 569.05 224.23 570.35 217.6 545.7C210.97 521.05 194.63 466.98 188 443.7C181.37 420.42 182.63 436.12 177.8 406C172.97 375.88 160.63 296.5 159 263Z"/>
<path d="M138.6 650.3L182 650.3L392 250L352 226Z"/>
<path d="M370.7 619.7L370.7 214L505.8 240L505.8 619.7Z"/>
<path d="M113 528L371 528L371 562L100 562Z"/>
<path fill-rule="evenodd" d="M381 197C395.83 201.33 440.33 213.67 470 223C499.67 232.33 529 241.83 559 253C589 264.17 620 276.33 650 290C680 303.67 714 320.33 739 335C764 349.67 780.67 362.5 800 378C819.33 393.5 839.5 411 855 428C870.5 445 883.83 462.17 893 480C902.17 497.83 908.83 516.67 910 535C911.17 553.33 907.17 572.5 900 590C892.83 607.5 878.5 625 867 640C855.5 655 842.9 667.33 831 680C819.1 692.67 807.43 704.33 795.6 716C783.77 727.67 776.43 739.33 760 750C743.57 760.67 707.5 775 697 780L696.5 895L559.4 895L559.4 288L505.8 272L505.8 238ZM696.5 342.6C703.75 349.67 726.92 368.77 740 385C753.08 401.23 765.83 420.83 775 440C784.17 459.17 791 481.33 795 500C799 518.67 800.67 533.67 799 552C797.33 570.33 793.17 589.5 785 610C776.83 630.5 764.75 653.83 750 675C735.25 696.17 705.42 726.67 696.5 737Z"/>
<path d="M918 148.8L1053 97.8L1053 513L1191 514L1178 548.3L918 548.3Z"/>
</g>
<g id="psc">
<clipPath id="pscc"><rect x="1150.1" y="100.1" width="111.6" height="85.8"/></clipPath>
<g clip-path="url(#pscc)">
<rect x="1150" y="100" width="112" height="86" fill="#dde9ec"/>
<path fill="#fff" d="M1150.91 101.17C1151.5 98.97 1154.76 100.62 1155.31 101.17C1155.86 101.73 1154.92 104.28 1155.05 105.31C1155.19 106.35 1155.14 108.42 1156.35 108.93C1157.55 109.45 1162.04 109.71 1164.11 109.19C1166.18 108.67 1170.14 106.12 1171.87 105.05C1173.59 103.98 1174.63 101.69 1177.04 101.17C1179.45 100.66 1189.28 100.41 1189.97 101.17C1190.66 101.93 1184.77 105.59 1182.21 106.86C1179.66 108.14 1173.04 109.57 1170.83 110.74C1168.62 111.92 1167.25 114.59 1165.66 115.66C1164.07 116.73 1160.9 118.49 1158.93 118.76C1156.97 119.04 1151.98 120.07 1150.91 117.73C1149.85 115.38 1150.33 103.38 1150.91 101.17Z"/>
<path fill="#fff" d="M1150.91 123.42C1151.98 123.45 1156.83 124.02 1158.93 123.68C1161.04 123.33 1164.55 121.9 1166.69 120.83C1168.83 119.76 1172.9 116.62 1174.97 115.66C1177.04 114.69 1179.87 113.97 1182.21 113.59C1184.56 113.21 1189.46 112.88 1192.56 112.81C1195.66 112.74 1202.96 112.97 1205.49 113.07C1208.02 113.18 1208.65 113.59 1211.52 113.59C1214.39 113.59 1223.94 113.42 1227.04 113.07C1230.14 112.73 1233.08 111.76 1234.8 111C1236.52 110.24 1238.59 108.28 1239.97 107.38C1241.35 106.48 1243.42 104.76 1245.15 104.28C1246.87 103.79 1250.8 103.55 1252.91 103.76C1255.01 103.97 1259.86 105.55 1260.92 105.83L1260.92 114.11C1260.55 113.76 1259.49 112.11 1258.08 111.52C1256.67 110.93 1252.25 109.71 1250.32 109.71C1248.39 109.71 1245.18 110.59 1243.59 111.52C1242.01 112.45 1239.8 115.31 1238.42 116.69C1237.04 118.07 1234.77 120.94 1233.25 121.87C1231.73 122.8 1229.94 123.88 1227.04 123.68C1224.14 123.47 1215.66 121.11 1211.52 120.31C1207.38 119.52 1198.87 118.25 1196 117.73C1193.13 117.21 1191.81 116.4 1189.97 116.43C1188.13 116.47 1183.94 117.4 1182.21 117.99C1180.49 118.57 1178.56 119.49 1177.04 120.83C1175.52 122.18 1172.56 126.56 1170.83 128.07C1169.11 129.59 1166.76 131.66 1164.11 132.21C1161.45 132.76 1152.67 132.21 1150.91 132.21Z"/>
<path fill="#fff" d="M1191.53 109.19C1192.7 108.88 1198.11 107.59 1200.32 106.86C1202.53 106.14 1207.83 104.38 1208.08 103.76C1208.33 103.14 1202.44 102.55 1202.21 102.21C1201.98 101.86 1204.07 101.31 1206.35 101.17C1208.62 101.04 1216.8 100.97 1219.28 101.17C1221.76 101.38 1223.25 102.45 1224.97 102.73C1226.69 103 1229.87 103.45 1232.21 103.24C1234.56 103.04 1239.46 101.48 1242.56 101.17C1245.66 100.86 1253.04 100.91 1255.49 100.91C1257.94 100.91 1260.2 101.14 1260.92 101.17L1260.92 105.31C1260.2 104.83 1257.25 102 1255.49 101.69C1253.73 101.38 1249.8 102.33 1247.73 102.98C1245.66 103.64 1242.04 105.73 1239.97 106.61C1237.9 107.48 1234.28 109.3 1232.21 109.55C1230.14 109.81 1226.38 109.14 1224.45 108.52C1222.52 107.9 1219.45 105.53 1217.73 104.9C1216 104.26 1213.38 103.43 1211.52 103.76C1209.66 104.09 1205.83 106.73 1203.76 107.38C1201.69 108.04 1197.49 108.38 1196 108.67C1194.51 108.96 1193.02 109.44 1192.56 109.55Z"/>
<rect x="1150" y="138" width="112" height="21.7" fill="#9ce8fa"/>
<path fill="#dde9ec" d="M1150.14 147.83C1150.97 148.04 1154.14 149.38 1156.35 149.38C1158.55 149.38 1163.59 148.52 1166.69 147.83C1169.8 147.14 1176.18 145.38 1179.63 144.21C1183.08 143.04 1190.15 140.12 1192.56 139.03C1194.97 137.95 1196.35 136.38 1197.73 136.09C1199.11 135.8 1201.53 136.35 1202.91 136.87C1204.29 137.39 1207.28 139.35 1208.08 139.97C1208.88 140.59 1208.47 141.1 1208.93 141.53C1209.39 141.95 1210.49 142.13 1211.52 143.17C1212.55 144.22 1215.31 147.93 1216.69 149.38C1218.07 150.83 1220.14 152.86 1221.87 154.04C1223.59 155.21 1227.21 157.45 1229.63 158.18C1232.04 158.9 1237.56 159.4 1239.97 159.47C1242.39 159.54 1246.01 159.14 1247.73 158.69C1249.46 158.24 1251.04 157.11 1252.91 156.11C1254.77 155.11 1260.53 151.85 1261.7 151.19L1262 138L1150 138Z"/>
<path d="M1153.76 151.97L1157.9 159.73M1169.28 148.35L1163.59 159.73M1178.33 145.24L1179.11 159.73M1192.56 139.55L1179.63 159.73M1202.91 139.55L1194.63 159.73M1199.29 150.42L1215.99 150.42M1196 150.42L1213.07 150.42M1215.66 150.42L1213.07 159.73M1202.73 139.55L1196 155.07" stroke="#dde9ec" stroke-width="1.5" fill="none"/>
<path fill="#dde9ec" d="M1150.14 147.83C1150.97 148.04 1154.14 149.38 1156.35 149.38C1158.55 149.38 1163.59 148.52 1166.69 147.83C1169.8 147.14 1176.18 145.38 1179.63 144.21C1183.08 143.04 1190.15 140.12 1192.56 139.03C1194.97 137.95 1196.35 136.38 1197.73 136.09C1199.11 135.8 1201.53 136.35 1202.91 136.87C1204.29 137.39 1207.28 139.35 1208.08 139.97C1208.88 140.59 1208.47 141.1 1208.93 141.53C1209.39 141.95 1210.49 142.13 1211.52 143.17C1212.55 144.22 1215.31 147.93 1216.69 149.38C1218.07 150.83 1220.14 152.86 1221.87 154.04C1223.59 155.21 1227.21 157.45 1229.63 158.18C1232.04 158.9 1237.56 159.4 1239.97 159.47C1242.39 159.54 1246.01 159.14 1247.73 158.69C1249.46 158.24 1251.04 157.11 1252.91 156.11C1254.77 155.11 1260.53 151.85 1261.7 151.19L1262 138L1150 138Z"/>
<path fill="#005bd9" d="M1150.14 144.73C1151.66 144.52 1157.93 143.93 1161.52 143.17C1165.11 142.41 1173.94 140.5 1177.04 139.03C1180.14 137.57 1182.87 133.74 1184.8 132.21C1186.73 130.68 1189.8 128.38 1191.53 127.56C1193.25 126.73 1196.45 126.18 1197.73 126.01C1199.02 125.83 1199.68 125.85 1201.17 126.26C1202.67 126.68 1206.86 127.7 1208.93 129.11C1211 130.52 1215.11 135.48 1216.69 136.87C1218.28 138.26 1219.45 138.64 1220.83 139.55C1222.21 140.46 1225.18 142.52 1227.04 143.69C1228.9 144.86 1232.73 147.24 1234.8 148.35C1236.87 149.45 1240.84 151.49 1242.56 151.97C1244.28 152.45 1245.18 152.69 1247.73 151.97C1250.29 151.24 1259.84 147.26 1261.7 146.54L1261.7 151.19C1260.53 151.85 1254.77 155.11 1252.91 156.11C1251.04 157.11 1249.46 158.24 1247.73 158.69C1246.01 159.14 1242.39 159.54 1239.97 159.47C1237.56 159.4 1232.04 158.9 1229.63 158.18C1227.21 157.45 1223.59 155.21 1221.87 154.04C1220.14 152.86 1218.07 150.83 1216.69 149.38C1215.31 147.93 1212.55 144.22 1211.52 143.17C1210.49 142.13 1209.39 141.95 1208.93 141.53C1208.47 141.1 1208.88 140.59 1208.08 139.97C1207.28 139.35 1204.29 137.39 1202.91 136.87C1201.53 136.35 1199.11 135.8 1197.73 136.09C1196.35 136.38 1194.97 137.95 1192.56 139.03C1190.15 140.12 1183.08 143.04 1179.63 144.21C1176.18 145.38 1169.8 147.14 1166.69 147.83C1163.59 148.52 1158.55 149.38 1156.35 149.38C1154.14 149.38 1150.97 148.04 1150.14 147.83Z"/>
<path fill="#005bd9" d="M1150.14 140.23C1150.97 140.2 1154.48 140.56 1156.35 139.97C1158.21 139.39 1162.18 137.28 1164.11 135.83C1166.04 134.39 1169.11 130.97 1170.83 129.11C1172.56 127.25 1175.52 123.18 1177.04 121.87C1178.56 120.56 1180.49 119.8 1182.21 119.28C1183.94 118.76 1187.9 118.06 1189.97 117.99C1192.04 117.92 1195.55 118.31 1197.73 118.76C1199.92 119.21 1203.82 120.31 1206.35 121.35C1208.87 122.38 1213.93 125.14 1216.69 126.52C1219.45 127.9 1224.28 130.39 1227.04 131.7C1229.8 133.01 1234.97 135.46 1237.39 136.35C1239.8 137.25 1243.22 138.28 1245.15 138.42C1247.08 138.56 1250.49 138.08 1251.87 137.39C1253.25 136.7 1254.8 134.49 1255.49 133.25C1256.18 132.01 1257.05 129.45 1257.05 128.07C1257.05 126.69 1256.39 123.97 1255.49 122.9C1254.6 121.83 1251.63 120.26 1250.32 120.06C1249.01 119.85 1246.56 120.49 1245.66 121.35C1244.77 122.21 1243.97 126.45 1243.59 126.52C1243.22 126.59 1242.68 123.18 1242.82 121.87C1242.96 120.56 1243.63 117.87 1244.63 116.69C1245.63 115.52 1248.66 113.35 1250.32 113.07C1251.98 112.8 1255.63 113.93 1257.05 114.62C1258.46 115.31 1260.27 117.28 1260.92 118.25C1261.58 119.21 1261.82 121.38 1261.96 121.87L1261.96 145.24C1260.41 145.9 1252.56 149.47 1250.32 150.16C1248.08 150.85 1246.87 150.8 1245.15 150.42C1243.42 150.04 1239.46 148.42 1237.39 147.31C1235.32 146.21 1231.28 143.31 1229.63 142.14C1227.97 140.97 1226.35 139.43 1224.97 138.52C1223.59 137.61 1221.07 136.71 1219.28 135.32C1217.49 133.92 1213.59 129.59 1211.52 128.07C1209.45 126.56 1205.83 124.63 1203.76 123.94C1201.69 123.25 1197.49 123.03 1196 122.9C1194.51 122.78 1193.85 122.83 1192.56 123C1191.27 123.18 1187.87 123.52 1186.35 124.19C1184.83 124.87 1182.7 126.73 1181.18 128.07C1179.66 129.42 1176.56 132.83 1174.97 134.28C1173.38 135.73 1171.07 137.83 1169.28 138.94C1167.49 140.04 1163.59 141.9 1161.52 142.56C1159.45 143.22 1155.28 143.85 1153.76 143.85C1152.24 143.85 1150.62 142.73 1150.14 142.56Z"/>
<rect x="1150" y="159.7" width="112" height="27" fill="#dde9ec"/>
<line x1="1150.5" y1="172.4" x2="1261" y2="172.4" stroke="#b9ced4" stroke-width="0.7"/>
</g>
<text transform="translate(1161.8,169) scale(0.9508,1)" font-size="8.7" style="stroke:none;fill:#3038e0;font-family:'Liberation Sans',sans-serif">AIR</text>
<text transform="translate(1197.93,169) scale(0.9466,1)" font-size="8.7" style="stroke:none;fill:#3038e0;font-family:'Liberation Sans',sans-serif">SEA</text>
<text transform="translate(1236.13,169) scale(0.9884,1)" font-size="8.7" style="stroke:none;fill:#3038e0;font-family:'Liberation Sans',sans-serif">ICE</text>
<text transform="translate(1184.79,167.6) scale(1.2963,1)" font-size="8" style="stroke:none;fill:#2a32e0;font-family:'Liberation Sans',sans-serif">•</text>
<text transform="translate(1223.79,167.6) scale(1.2963,1)" font-size="8" style="stroke:none;fill:#2a32e0;font-family:'Liberation Sans',sans-serif">•</text>
<text transform="translate(1154.85,183.8) scale(0.9078,1)" font-size="12.9" style="stroke:none;fill:#1414ee;font-family:'Liberation Serif',serif">Polar</text>
<text transform="translate(1182.68,183.8) scale(0.9786,1)" font-size="12.9" style="stroke:none;fill:#1414ee;font-family:'Liberation Serif',serif">Science</text>
<text transform="translate(1224.71,183.8) scale(0.9409,1)" font-size="12.9" style="stroke:none;fill:#1414ee;font-family:'Liberation Serif',serif">Center</text>
</g>
</svg></body></html>
